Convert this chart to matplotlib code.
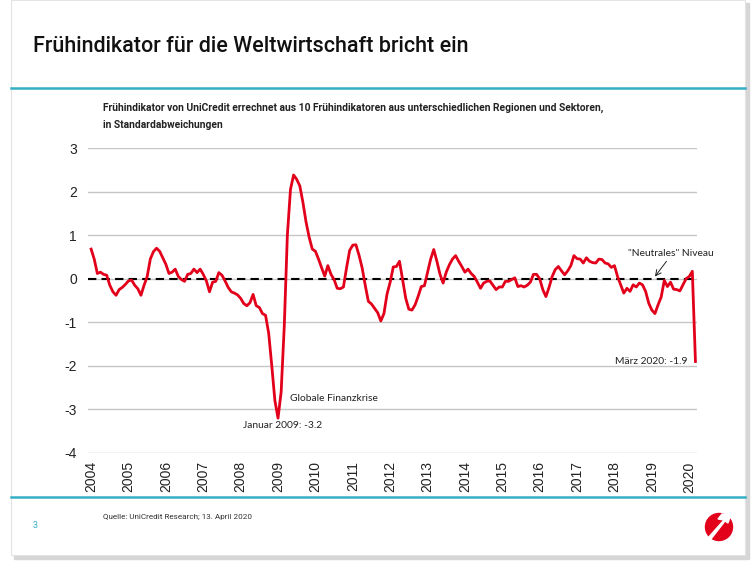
import numpy as np
import matplotlib.pyplot as plt
from matplotlib.patches import Rectangle, Circle, Polygon

plt.rcParams["axes.unicode_minus"] = False

# monthly values of the UniCredit leading indicator, Jan 2004 - Mar 2020
v2004 = [0.68, 0.45, 0.12, 0.15, 0.10, 0.08, -0.15, -0.30, -0.38, -0.25, -0.20, -0.13]
v2005 = [-0.05, -0.03, -0.15, -0.23, -0.38, -0.15, 0.05, 0.45, 0.62, 0.70, 0.63, 0.48]
v2006 = [0.33, 0.12, 0.15, 0.22, 0.05, -0.02, -0.06, 0.10, 0.12, 0.22, 0.14, 0.22]
v2007 = [0.10, -0.05, -0.30, -0.08, -0.06, 0.14, 0.08, -0.05, -0.20, -0.30, -0.33, -0.37]
v2008 = [-0.45, -0.57, -0.62, -0.55, -0.36, -0.62, -0.66, -0.80, -0.84, -1.25, -2.00, -2.80]
v2009 = [-3.20, -2.60, -1.10, 1.00, 2.05, 2.38, 2.28, 2.13, 1.75, 1.30, 0.95, 0.68]
v2010 = [0.63, 0.45, 0.25, 0.06, 0.30, 0.10, -0.02, -0.22, -0.23, -0.19, 0.25, 0.65]
v2011 = [0.77, 0.78, 0.54, 0.25, -0.15, -0.52, -0.58, -0.68, -0.78, -0.97, -0.80, -0.35]
v2012 = [-0.08, 0.27, 0.28, 0.40, -0.02, -0.45, -0.70, -0.72, -0.60, -0.40, -0.18, -0.16]
v2013 = [0.15, 0.45, 0.67, 0.40, 0.10, -0.10, 0.15, 0.32, 0.45, 0.53, 0.40, 0.28]
v2014 = [0.15, 0.22, 0.12, 0.05, -0.08, -0.22, -0.10, -0.06, -0.05, -0.15, -0.25, -0.19]
v2015 = [-0.19, -0.06, -0.06, -0.02, 0.02, -0.18, -0.16, -0.19, -0.15, -0.08, 0.10, 0.10]
v2016 = [0.00, -0.25, -0.41, -0.20, 0.05, 0.21, 0.28, 0.18, 0.09, 0.18, 0.30, 0.53]
v2017 = [0.46, 0.45, 0.36, 0.48, 0.40, 0.37, 0.36, 0.45, 0.44, 0.36, 0.34, 0.26]
v2018 = [0.30, 0.05, -0.14, -0.33, -0.22, -0.29, -0.14, -0.19, -0.10, -0.14, -0.29, -0.56]
v2019 = [-0.72, -0.80, -0.60, -0.42, -0.04, -0.18, -0.08, -0.24, -0.25, -0.28, -0.14, 0.00]
v2020 = [0.05, 0.17, -1.90]

values = np.array(v2004 + v2005 + v2006 + v2007 + v2008 + v2009 + v2010 + v2011 + v2012
                  + v2013 + v2014 + v2015 + v2016 + v2017 + v2018 + v2019 + v2020)
months = np.arange(len(values))
years = [str(y) for y in range(2004, 2021)]

teal = "#35afc5"
red = "#e2001a"

W, H = 756, 565
fig = plt.figure(figsize=(W / 100, H / 100), dpi=100)

# slide background with card shadow
bg = fig.add_axes([0, 0, 1, 1])
bg.set_xlim(0, W)
bg.set_ylim(H, 0)
bg.axis("off")
bg.add_patch(Rectangle((14, 3), 735, 556, color="#d6d6d6", zorder=0))
bg.add_patch(Rectangle((11, 0), 734, 555, facecolor="white", edgecolor="#e4e4e4", lw=0.8, zorder=1))
bg.plot([11, 745], [88, 88], color=teal, lw=1.8, zorder=2)
bg.plot([11, 745], [497, 497], color=teal, lw=1.8, zorder=2)

bg.text(33, 47, "Frühindikator für die Weltwirtschaft bricht ein", fontsize=15.5,
        family="Roboto", weight="medium", va="center", ha="left", color="#111111", zorder=3)
bg.text(103, 108, "Frühindikator von UniCredit errechnet aus 10 Frühindikatoren aus unterschiedlichen Regionen und Sektoren,",
        fontsize=7.4, family="Roboto", weight="bold", va="center", ha="left", color="#222222", zorder=3)
bg.text(103, 125, "in Standardabweichungen", fontsize=7.4, family="Roboto", weight="bold",
        va="center", ha="left", color="#222222", zorder=3)
bg.text(103, 517, "Quelle: UniCredit Research; 13. April 2020", fontsize=5.9, family="Roboto",
        va="center", ha="left", color="#333333", zorder=3)
bg.text(35, 525, "3", fontsize=6.5, family="Roboto", va="center", ha="center", color=teal, zorder=3)

# UniCredit logo
bg.add_patch(Circle((719, 527), 13.5, color=red, zorder=3))
bg.add_patch(Polygon([[707, 539], [724, 520], [718, 519], [722, 514], [731, 514], [728, 523], [725, 521], [711, 539]],
                     closed=True, color="white", zorder=4))

# chart
left, right, top, bottom = 88, 697, 148, 453
ax = fig.add_axes([left / W, (H - bottom) / H, (right - left) / W, (bottom - top) / H])
ax.set_facecolor("none")
ax.set_xlim(-1, 194.5)
ax.set_ylim(-4, 3)
ax.set_yticks(range(-4, 4))
ax.set_xticks(range(0, 193, 12))
ax.set_xticklabels(years, rotation=90)
for lab in ax.get_yticklabels() + ax.get_xticklabels():
    lab.set_family("Liberation Sans")
    lab.set_fontsize(10)
    lab.set_color("#222222")
ax.tick_params(axis="y", length=0, pad=8)
ax.tick_params(axis="x", length=0, pad=6)
for s in ax.spines.values():
    s.set_visible(False)
ax.grid(axis="y", color="#c6c6c6", lw=1)
ax.set_axisbelow(True)

ax.axhline(0, color="black", ls=(0, (4, 2.5)), lw=1.5, zorder=2)
ax.plot(months, values, color=red, lw=2, zorder=3, clip_on=False)

ax.text(63.8, -2.74, "Globale Finanzkrise", fontsize=7.4, family="Lato", ha="left", va="center", color="#222222")
ax.text(61.6, -3.38, "Januar 2009: -3.2", fontsize=7.4, family="Lato", ha="center", va="center", color="#222222")
ax.text(191.6, -1.89, "März 2020: -1.9", fontsize=7.4, family="Lato", ha="right", va="center", color="#222222")
ax.text(172.4, 0.59, '"Neutrales" Niveau', fontsize=7.4, family="Lato", ha="left", va="center", color="#222222")
ax.annotate("", xy=(181, 0.05), xytext=(184.7, 0.40),
            arrowprops=dict(arrowstyle="->", color="#222222", lw=0.7, shrinkA=0, shrinkB=0))

fig.savefig("out.png", dpi=100)
